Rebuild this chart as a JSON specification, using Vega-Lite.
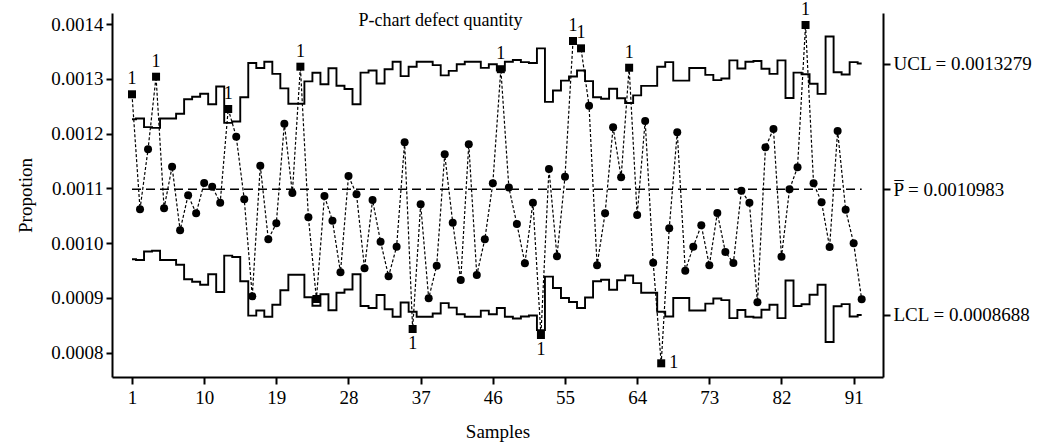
{
  "$schema": "https://vega.github.io/schema/vega-lite/v6.json",
  "width": 771,
  "height": 364,
  "autosize": {"type": "none"},
  "padding": {"left": 112, "top": 13, "right": 156, "bottom": 67},
  "background": "white",
  "title": {"text": "P-chart defect quantity", "frame": "group", "anchor": "middle", "dx": -57, "offset": 0, "baseline": "middle", "dy": 38, "fontSize": 18, "fontWeight": "normal", "font": "Liberation Serif", "color": "black"},
  "config": {
    "view": {"stroke": null},
    "font": "Liberation Serif",
    "axis": {"domainColor": "black", "domainWidth": 2, "tickColor": "black", "tickWidth": 2, "labelColor": "black", "titleColor": "black", "titleFontWeight": "normal", "grid": false, "labelFont": "Liberation Serif", "titleFont": "Liberation Serif", "labelFontSize": 19, "titleFontSize": 19}
  },
  "datasets": {
    "samples": [
      {"s":1,"p":0.0012717,"ucl":0.0012261,"lcl":0.0009705,"out":"yes","lab":"1"},
      {"s":2,"p":0.0010617,"ucl":0.0012275,"lcl":0.0009691,"out":"no","lab":""},
      {"s":3,"p":0.0011713,"ucl":0.0012118,"lcl":0.0009848,"out":"no","lab":""},
      {"s":4,"p":0.0013038,"ucl":0.0012104,"lcl":0.0009862,"out":"yes","lab":"1"},
      {"s":5,"p":0.0010636,"ucl":0.0012274,"lcl":0.0009692,"out":"no","lab":""},
      {"s":6,"p":0.0011395,"ucl":0.0012274,"lcl":0.0009692,"out":"no","lab":""},
      {"s":7,"p":0.0010234,"ucl":0.0012361,"lcl":0.0009605,"out":"no","lab":""},
      {"s":8,"p":0.0010875,"ucl":0.0012626,"lcl":0.000934,"out":"no","lab":""},
      {"s":9,"p":0.0010544,"ucl":0.0012672,"lcl":0.0009294,"out":"no","lab":""},
      {"s":10,"p":0.0011097,"ucl":0.0012726,"lcl":0.000924,"out":"no","lab":""},
      {"s":11,"p":0.001103,"ucl":0.0012535,"lcl":0.0009431,"out":"no","lab":""},
      {"s":12,"p":0.0010738,"ucl":0.0012858,"lcl":0.0009108,"out":"no","lab":""},
      {"s":13,"p":0.0012448,"ucl":0.0012195,"lcl":0.0009771,"out":"yes","lab":"1"},
      {"s":14,"p":0.0011943,"ucl":0.0012219,"lcl":0.0009747,"out":"no","lab":""},
      {"s":15,"p":0.00108,"ucl":0.0012662,"lcl":0.0009304,"out":"no","lab":""},
      {"s":16,"p":0.0009029,"ucl":0.0013289,"lcl":0.0008677,"out":"no","lab":""},
      {"s":17,"p":0.0011413,"ucl":0.0013197,"lcl":0.0008769,"out":"no","lab":""},
      {"s":18,"p":0.001007,"ucl":0.0013311,"lcl":0.0008655,"out":"no","lab":""},
      {"s":19,"p":0.0010362,"ucl":0.001309,"lcl":0.0008876,"out":"no","lab":""},
      {"s":20,"p":0.001218,"ucl":0.0012825,"lcl":0.0009141,"out":"no","lab":""},
      {"s":21,"p":0.0010915,"ucl":0.0012544,"lcl":0.0009422,"out":"no","lab":""},
      {"s":22,"p":0.0013221,"ucl":0.0012544,"lcl":0.0009422,"out":"yes","lab":"1"},
      {"s":23,"p":0.0010471,"ucl":0.0012953,"lcl":0.0009013,"out":"no","lab":""},
      {"s":24,"p":0.000898,"ucl":0.001311,"lcl":0.0008856,"out":"yes","lab":""},
      {"s":25,"p":0.001086,"ucl":0.00129,"lcl":0.0009066,"out":"no","lab":""},
      {"s":26,"p":0.0010409,"ucl":0.0013192,"lcl":0.0008774,"out":"no","lab":""},
      {"s":27,"p":0.0009467,"ucl":0.0012872,"lcl":0.0009094,"out":"no","lab":""},
      {"s":28,"p":0.0011225,"ucl":0.0012814,"lcl":0.0009152,"out":"no","lab":""},
      {"s":29,"p":0.0010891,"ucl":0.0012535,"lcl":0.0009431,"out":"no","lab":""},
      {"s":30,"p":0.000954,"ucl":0.0013113,"lcl":0.0008853,"out":"no","lab":""},
      {"s":31,"p":0.0010787,"ucl":0.001315,"lcl":0.0008816,"out":"no","lab":""},
      {"s":32,"p":0.0010026,"ucl":0.0012914,"lcl":0.0009052,"out":"no","lab":""},
      {"s":33,"p":0.0009394,"ucl":0.0013174,"lcl":0.0008792,"out":"no","lab":""},
      {"s":34,"p":0.0009935,"ucl":0.0013311,"lcl":0.0008655,"out":"no","lab":""},
      {"s":35,"p":0.001184,"ucl":0.0013049,"lcl":0.0008917,"out":"no","lab":""},
      {"s":36,"p":0.0008432,"ucl":0.0013219,"lcl":0.0008747,"out":"yes","lab":"1"},
      {"s":37,"p":0.0010709,"ucl":0.0013311,"lcl":0.0008655,"out":"no","lab":""},
      {"s":38,"p":0.0008993,"ucl":0.0013311,"lcl":0.0008655,"out":"no","lab":""},
      {"s":39,"p":0.0009588,"ucl":0.001325,"lcl":0.0008716,"out":"no","lab":""},
      {"s":40,"p":0.0011621,"ucl":0.0013062,"lcl":0.0008904,"out":"no","lab":""},
      {"s":41,"p":0.0010373,"ucl":0.0013144,"lcl":0.0008822,"out":"no","lab":""},
      {"s":42,"p":0.0009327,"ucl":0.0013265,"lcl":0.0008701,"out":"no","lab":""},
      {"s":43,"p":0.0011804,"ucl":0.0013311,"lcl":0.0008655,"out":"no","lab":""},
      {"s":44,"p":0.0009418,"ucl":0.0013311,"lcl":0.0008655,"out":"no","lab":""},
      {"s":45,"p":0.001007,"ucl":0.0013199,"lcl":0.0008767,"out":"no","lab":""},
      {"s":46,"p":0.0011092,"ucl":0.0013265,"lcl":0.0008701,"out":"no","lab":""},
      {"s":47,"p":0.0013175,"ucl":0.001315,"lcl":0.0008816,"out":"yes","lab":"1"},
      {"s":48,"p":0.0011015,"ucl":0.0013311,"lcl":0.0008655,"out":"no","lab":""},
      {"s":49,"p":0.0010349,"ucl":0.0013342,"lcl":0.0008624,"out":"no","lab":""},
      {"s":50,"p":0.0009632,"ucl":0.0013305,"lcl":0.0008661,"out":"no","lab":""},
      {"s":51,"p":0.0010738,"ucl":0.0013287,"lcl":0.0008679,"out":"no","lab":""},
      {"s":52,"p":0.0008323,"ucl":0.0013555,"lcl":0.0008411,"out":"yes","lab":"1"},
      {"s":53,"p":0.0011353,"ucl":0.0012578,"lcl":0.0009388,"out":"no","lab":""},
      {"s":54,"p":0.0009759,"ucl":0.0012785,"lcl":0.0009181,"out":"no","lab":""},
      {"s":55,"p":0.0011212,"ucl":0.0012967,"lcl":0.0008999,"out":"no","lab":""},
      {"s":56,"p":0.001369,"ucl":0.0013042,"lcl":0.0008924,"out":"yes","lab":"1"},
      {"s":57,"p":0.0013556,"ucl":0.001315,"lcl":0.0008816,"out":"yes","lab":"1"},
      {"s":58,"p":0.0012507,"ucl":0.0012958,"lcl":0.0009008,"out":"no","lab":""},
      {"s":59,"p":0.0009595,"ucl":0.0012662,"lcl":0.0009304,"out":"no","lab":""},
      {"s":60,"p":0.0010544,"ucl":0.0012635,"lcl":0.0009331,"out":"no","lab":""},
      {"s":61,"p":0.0012114,"ucl":0.0012818,"lcl":0.0009148,"out":"no","lab":""},
      {"s":62,"p":0.0011202,"ucl":0.0012644,"lcl":0.0009322,"out":"no","lab":""},
      {"s":63,"p":0.0013202,"ucl":0.0012557,"lcl":0.0009409,"out":"yes","lab":"1"},
      {"s":64,"p":0.0010513,"ucl":0.0012697,"lcl":0.0009269,"out":"no","lab":""},
      {"s":65,"p":0.0012229,"ucl":0.0012871,"lcl":0.0009095,"out":"no","lab":""},
      {"s":66,"p":0.0009643,"ucl":0.0012871,"lcl":0.0009095,"out":"no","lab":""},
      {"s":67,"p":0.0007806,"ucl":0.0013219,"lcl":0.0008747,"out":"yes","lab":"1"},
      {"s":68,"p":0.001027,"ucl":0.0013305,"lcl":0.0008661,"out":"no","lab":""},
      {"s":69,"p":0.0012023,"ucl":0.0012967,"lcl":0.0008999,"out":"no","lab":""},
      {"s":70,"p":0.0009497,"ucl":0.0012967,"lcl":0.0008999,"out":"no","lab":""},
      {"s":71,"p":0.0009935,"ucl":0.0013197,"lcl":0.0008769,"out":"no","lab":""},
      {"s":72,"p":0.0010325,"ucl":0.0013197,"lcl":0.0008769,"out":"no","lab":""},
      {"s":73,"p":0.0009595,"ucl":0.0013071,"lcl":0.0008895,"out":"no","lab":""},
      {"s":74,"p":0.001055,"ucl":0.0012976,"lcl":0.000899,"out":"no","lab":""},
      {"s":75,"p":0.0009838,"ucl":0.0013006,"lcl":0.000896,"out":"no","lab":""},
      {"s":76,"p":0.0009637,"ucl":0.0013336,"lcl":0.000863,"out":"no","lab":""},
      {"s":77,"p":0.0010957,"ucl":0.0013188,"lcl":0.0008778,"out":"no","lab":""},
      {"s":78,"p":0.0010738,"ucl":0.0013311,"lcl":0.0008655,"out":"no","lab":""},
      {"s":79,"p":0.000892,"ucl":0.0013325,"lcl":0.0008641,"out":"no","lab":""},
      {"s":80,"p":0.0011749,"ucl":0.0013183,"lcl":0.0008783,"out":"no","lab":""},
      {"s":81,"p":0.0012083,"ucl":0.001309,"lcl":0.0008876,"out":"no","lab":""},
      {"s":82,"p":0.0009752,"ucl":0.0013336,"lcl":0.000863,"out":"no","lab":""},
      {"s":83,"p":0.0010982,"ucl":0.0012648,"lcl":0.0009318,"out":"no","lab":""},
      {"s":84,"p":0.0011384,"ucl":0.0013113,"lcl":0.0008853,"out":"no","lab":""},
      {"s":85,"p":0.0013982,"ucl":0.0013082,"lcl":0.0008884,"out":"yes","lab":"1"},
      {"s":86,"p":0.0011092,"ucl":0.0012909,"lcl":0.0009057,"out":"no","lab":""},
      {"s":87,"p":0.0010745,"ucl":0.0012725,"lcl":0.0009241,"out":"no","lab":""},
      {"s":88,"p":0.0009929,"ucl":0.0013772,"lcl":0.0008194,"out":"no","lab":""},
      {"s":89,"p":0.0012047,"ucl":0.0013119,"lcl":0.0008847,"out":"no","lab":""},
      {"s":90,"p":0.001061,"ucl":0.0013079,"lcl":0.0008887,"out":"no","lab":""},
      {"s":91,"p":0.0009997,"ucl":0.0013305,"lcl":0.0008661,"out":"no","lab":""},
      {"s":92,"p":0.0008974,"ucl":0.0013279,"lcl":0.0008688,"out":"no","lab":""}
    ],
    "center": [{"pbar": 0.0010983, "from": 1, "to": 92}]
  },
  "data": {"name": "samples"},
  "encoding": {
    "x": {"field": "s", "type": "quantitative", "scale": {"domain": [-1.494, 94.66], "nice": false, "zero": false},
      "axis": {"values": [1, 10, 19, 28, 37, 46, 55, 64, 73, 82, 91], "title": "Samples", "tickSize": 7, "labelPadding": 4, "titlePadding": 15}}
  },
  "layer": [
    {
      "mark": {"type": "line", "interpolate": "step", "color": "black", "strokeWidth": 1.9},
      "encoding": {"y": {"field": "ucl", "type": "quantitative", "scale": {"domain": [0.0007556, 0.0014201], "nice": false, "zero": false},
        "axis": {"orient": "left", "values": [0.0008, 0.0009, 0.001, 0.0011, 0.0012, 0.0013, 0.0014], "format": ".4f", "title": "Propotion", "tickSize": 6, "labelPadding": 3, "titlePadding": 15}}}
    },
    {
      "mark": {"type": "line", "interpolate": "step", "color": "black", "strokeWidth": 1.9},
      "encoding": {"y": {"field": "lcl", "type": "quantitative", "scale": {"domain": [0.0007556, 0.0014201], "nice": false, "zero": false},
        "axis": {"orient": "right", "values": [0.0008688, 0.0010983, 0.0013279], "title": null, "tickSize": 7, "labelPadding": 3,
          "labelExpr": "datum.value > 0.0012 ? 'UCL = 0.0013279' : (datum.value > 0.001 ? 'P\u0305 = 0.0010983' : 'LCL = 0.0008688')"}}}
    },
    {
      "data": {"name": "center"},
      "mark": {"type": "rule", "color": "black", "strokeWidth": 1.5, "strokeDash": [9, 5]},
      "encoding": {
        "x": {"field": "from", "type": "quantitative"},
        "x2": {"field": "to"},
        "y": {"field": "pbar", "type": "quantitative", "scale": {"domain": [0.0007556, 0.0014201], "nice": false, "zero": false}, "axis": null}
      }
    },
    {
      "mark": {"type": "line", "color": "black", "strokeWidth": 1.2, "strokeDash": [3, 2]},
      "encoding": {"y": {"field": "p", "type": "quantitative", "scale": {"domain": [0.0007556, 0.0014201], "nice": false, "zero": false}, "axis": null}}
    },
    {
      "mark": {"type": "point", "filled": true, "opacity": 1, "color": "black", "size": 64},
      "encoding": {
        "y": {"field": "p", "type": "quantitative", "scale": {"domain": [0.0007556, 0.0014201], "nice": false, "zero": false}, "axis": null},
        "shape": {"field": "out", "type": "nominal", "scale": {"domain": ["no", "yes"], "range": ["circle", "square"]}, "legend": null}
      }
    },
    {
      "transform": [{"filter": "datum.lab == '1' && datum.p > datum.ucl"}],
      "mark": {"type": "text", "fontSize": 18, "baseline": "middle", "dy": -15, "fill": "black", "font": "Liberation Serif"},
      "encoding": {"y": {"field": "p", "type": "quantitative", "scale": {"domain": [0.0007556, 0.0014201], "nice": false, "zero": false}, "axis": null}, "text": {"field": "lab"}}
    },
    {
      "transform": [{"filter": "datum.lab == '1' && datum.p < datum.lcl && datum.s != 67"}],
      "mark": {"type": "text", "fontSize": 18, "baseline": "middle", "dy": 15, "fill": "black", "font": "Liberation Serif"},
      "encoding": {"y": {"field": "p", "type": "quantitative", "scale": {"domain": [0.0007556, 0.0014201], "nice": false, "zero": false}, "axis": null}, "text": {"field": "lab"}}
    },
    {
      "transform": [{"filter": "datum.lab == '1' && datum.s == 67"}],
      "mark": {"type": "text", "fontSize": 18, "baseline": "middle", "align": "left", "dx": 8, "fill": "black", "font": "Liberation Serif"},
      "encoding": {"y": {"field": "p", "type": "quantitative", "scale": {"domain": [0.0007556, 0.0014201], "nice": false, "zero": false}, "axis": null}, "text": {"field": "lab"}}
    }
  ],
  "resolve": {"axis": {"y": "independent"}}
}
